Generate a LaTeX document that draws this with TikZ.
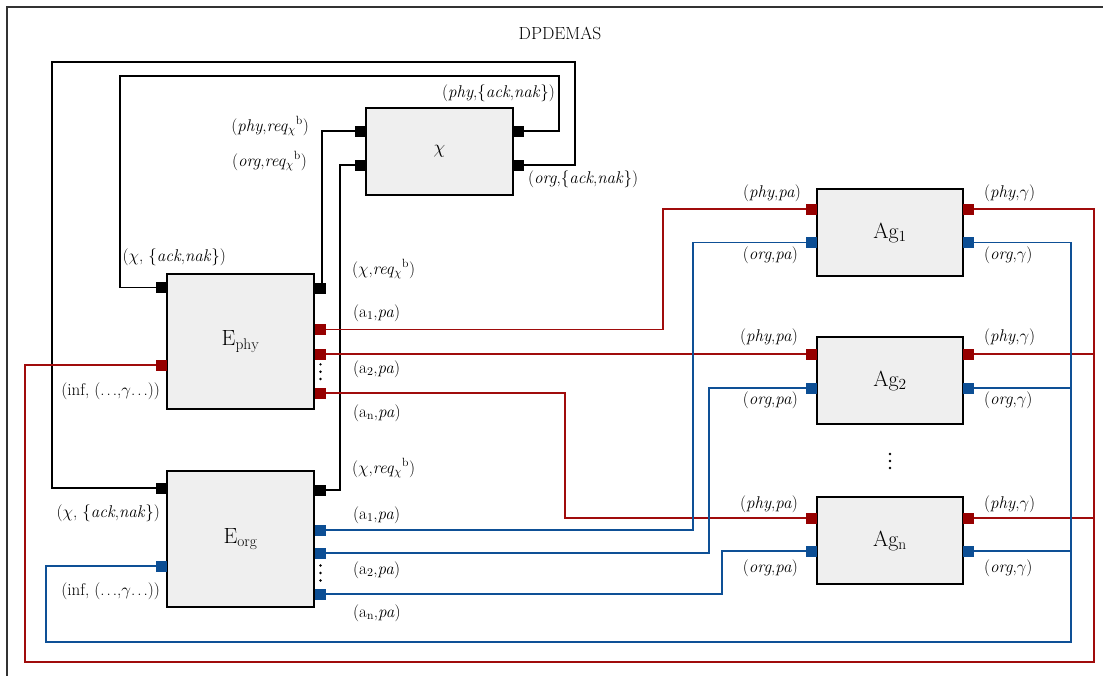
\RequirePackage{fix-cm}
\documentclass[tikz,border=0pt]{standalone}
\usepackage{fontspec}
\usetikzlibrary{calc}
\definecolor{boxgray}{RGB}{239,239,239}
\definecolor{wred}{RGB}{160,12,12}
\definecolor{wblue}{RGB}{14,80,150}
\definecolor{pred}{RGB}{150,0,0}
\definecolor{pblue}{RGB}{12,78,148}
\pgfdeclarelayer{bg}
\pgfsetlayers{bg,main}
\newcommand{\ti}[1]{\textit{#1}}
\newcommand{\rqx}{\textit{req}$_\chi{}^{\mathrm{b}}$}
\newcommand{\dts}{.\kern2pt.\kern2pt.}
\tikzset{
  box/.style={draw=black, fill=boxgray, line width=1.3pt, inner sep=0pt,
    minimum width=147pt, font=\fontsize{22}{26}\selectfont},
  prt/.style={minimum size=11pt, inner sep=0pt, outer sep=0pt},
  pk/.style={prt, fill=black},
  pr/.style={prt, fill=pred},
  pb/.style={prt, fill=pblue},
  kwire/.style={draw=black, line width=1.1pt},
  rwire/.style={draw=wred, line width=1.2pt},
  bwire/.style={draw=wblue, line width=1.2pt},
  lab/.style={font=\fontsize{17}{20}\selectfont, inner sep=0pt},
  dotc/.style={fill=black, draw=none},
}
\begin{document}
\begin{tikzpicture}[x=1pt,y=-1pt]
\useasboundingbox (0,0) rectangle (1103,675);
\clip (0,0) rectangle (1103,675);
\draw[line width=1.3pt, draw=black!80] (7,700) -- (7,7) -- (1120,7);
\node[lab, font=\fontsize{17.5}{21}\selectfont] (title) at (560,33) {DPDEMAS};

% boxes
\node[box, minimum height=87pt] (chi) at (439.5,151.5) {\fontsize{19}{22}\selectfont$\chi$};
\node[box, minimum height=135pt] (ephy) at (240.5,341.5) {E$_{\mathrm{phy}}$};
\node[box, minimum height=136pt] (eorg) at (240.5,539) {E$_{\mathrm{org}}$};
\node[box, minimum width=146pt, minimum height=87pt] (ag1) at (890,232.5) {Ag$_1$};
\node[box, minimum width=146pt, minimum height=87pt] (ag2) at (890,380.5) {Ag$_2$};
\node[box, minimum width=146pt, minimum height=87pt] (agn) at (890,540.5) {Ag$_{\mathrm{n}}$};

% ports chi
\node[pk] (chiL1) at (360.5,131) {};
\node[pk] (chiL2) at (360.5,165) {};
\node[pk] (chiR1) at (518.5,131) {};
\node[pk] (chiR2) at (518.5,165) {};
% ports E_phy
\node[pk] (ephyL1) at (161.5,287.5) {};
\node[pr] (ephyL2) at (161.5,365) {};
\node[pk] (ephyTR) at (320.5,288) {};
\node[pr] (ephyR1) at (320.5,329.5) {};
\node[pr] (ephyR2) at (320.5,354) {};
\node[pr] (ephyRn) at (320.5,393) {};
% ports E_org
\node[pk] (eorgL1) at (161.5,488) {};
\node[pb] (eorgL2) at (161.5,566) {};
\node[pk] (eorgTR) at (320.5,490) {};
\node[pb] (eorgR1) at (320.5,530) {};
\node[pb] (eorgR2) at (320.5,553) {};
\node[pb] (eorgRn) at (320.5,594) {};
% ports agents
\node[pr] (ag1Lr) at (811.5,209) {};
\node[pb] (ag1Lb) at (811.5,242.5) {};
\node[pr] (ag1Rr) at (968.5,209) {};
\node[pb] (ag1Rb) at (968.5,242.5) {};
\node[pr] (ag2Lr) at (811.5,354) {};
\node[pb] (ag2Lb) at (811.5,388) {};
\node[pr] (ag2Rr) at (968.5,354) {};
\node[pb] (ag2Rb) at (968.5,388) {};
\node[pr] (agnLr) at (811.5,518) {};
\node[pb] (agnLb) at (811.5,551) {};
\node[pr] (agnRr) at (968.5,518) {};
\node[pb] (agnRb) at (968.5,551) {};

\coordinate (rbus) at (1094,662);
\coordinate (bbus) at (1071,642);

\begin{pgfonlayer}{bg}
% black wires
\draw[kwire] (chiR1.center) -| (559,76) -| (120,287.5) -- (ephyL1.center);
\draw[kwire] (chiR2.center) -| (575,62) -| (52,488) -- (eorgL1.center);
\draw[kwire] (ephyTR.center) ++(1.5,0) |- (chiL1.center);
\draw[kwire] (eorgTR.center) -| (340,165) -- (chiL2.center);
% red wires
\draw[rwire] (ephyL2.center) -| (25,662) -| (rbus) |- (ag1Rr.center);
\draw[rwire] (ag2Rr.center) -- (ag2Rr.center -| rbus);
\draw[rwire] (agnRr.center) -- (agnRr.center -| rbus);
\draw[rwire] (ephyR1.center) -| (663,209) -- (ag1Lr.center);
\draw[rwire] (ephyR2.center) -- (ag2Lr.center);
\draw[rwire] (ephyRn.center) -| (565,518) -- (agnLr.center);
% blue wires
\draw[bwire] (eorgL2.center) -| (46,642) -| (bbus) |- (ag1Rb.center);
\draw[bwire] (ag2Rb.center) -- (ag2Rb.center -| bbus);
\draw[bwire] (agnRb.center) -- (agnRb.center -| bbus);
\draw[bwire] (eorgR1.center) -| (693,242.5) -- (ag1Lb.center);
\draw[bwire] (eorgR2.center) -| (709,388) -- (ag2Lb.center);
\draw[bwire] (eorgRn.center) -| (722,551) -- (agnLb.center);
\end{pgfonlayer}

% dots
\foreach \yy in {364.3,371.7,379} \fill[dotc] (320.5,\yy) circle (1.3pt);
\foreach \yy in {565.5,573,580.5} \fill[dotc] (320.5,\yy) circle (1.3pt);
\foreach \yy in {454,461,468} \fill[dotc] (890,\yy) circle (1.3pt);

% labels chi
\node[lab, anchor=base east] (l1) at (555,97) {(\ti{phy},\{\ti{ack},\ti{nak}\})};
\node[lab, anchor=base east] (l2) at (309,131) {(\ti{phy},\rqx)};
\node[lab, anchor=base east] (l3) at (307,166) {(\ti{org},\rqx)};
\node[lab, anchor=base west] (l4) at (528,183.5) {(\ti{org},\{\ti{ack},\ti{nak}\})};
% labels E_phy
\node[lab, anchor=base east] (l5) at (226,261) {($\chi$, \{\ti{ack},\ti{nak}\})};
\node[lab, anchor=base west] (l6) at (352,274) {($\chi$,\rqx)};
\node[lab, anchor=base west] (l7) at (353,317) {(a$_1$,\ti{pa})};
\node[lab, anchor=base west] (l8) at (353,373) {(a$_2$,\ti{pa})};
\node[lab, anchor=base west] (l9) at (353,417) {(a$_{\mathrm{n}}$,\ti{pa})};
\node[lab, anchor=base east] (l10) at (160,395) {(inf, (\dts,$\gamma$\dts))};
% labels E_org
\node[lab, anchor=base west] (l11) at (352,473) {($\chi$,\rqx)};
\node[lab, anchor=base west] (l12) at (353,519) {(a$_1$,\ti{pa})};
\node[lab, anchor=base west] (l13) at (353,574) {(a$_2$,\ti{pa})};
\node[lab, anchor=base west] (l14) at (353,617) {(a$_{\mathrm{n}}$,\ti{pa})};
\node[lab, anchor=base east] (l15) at (160,517) {($\chi$, \{\ti{ack},\ti{nak}\})};
\node[lab, anchor=base east] (l16) at (160,595) {(inf, (\dts,$\gamma$\dts))};
% labels agents
\node[lab, anchor=base east] (a1) at (801,197.5) {(\ti{phy},\ti{pa})};
\node[lab, anchor=base east] (a2) at (798,259) {(\ti{org},\ti{pa})};
\node[lab, anchor=base west] (a3) at (984,197.5) {(\ti{phy},$\gamma$)};
\node[lab, anchor=base west] (a4) at (984,259) {(\ti{org},$\gamma$)};
\node[lab, anchor=base east] (a5) at (798,341.5) {(\ti{phy},\ti{pa})};
\node[lab, anchor=base east] (a6) at (798,404) {(\ti{org},\ti{pa})};
\node[lab, anchor=base west] (a7) at (984,341.5) {(\ti{phy},$\gamma$)};
\node[lab, anchor=base west] (a8) at (984,404) {(\ti{org},$\gamma$)};
\node[lab, anchor=base east] (a9) at (798,508.5) {(\ti{phy},\ti{pa})};
\node[lab, anchor=base east] (a10) at (798,572.5) {(\ti{org},\ti{pa})};
\node[lab, anchor=base west] (a11) at (984,508.5) {(\ti{phy},$\gamma$)};
\node[lab, anchor=base west] (a12) at (984,572.5) {(\ti{org},$\gamma$)};
\end{tikzpicture}
\end{document}
